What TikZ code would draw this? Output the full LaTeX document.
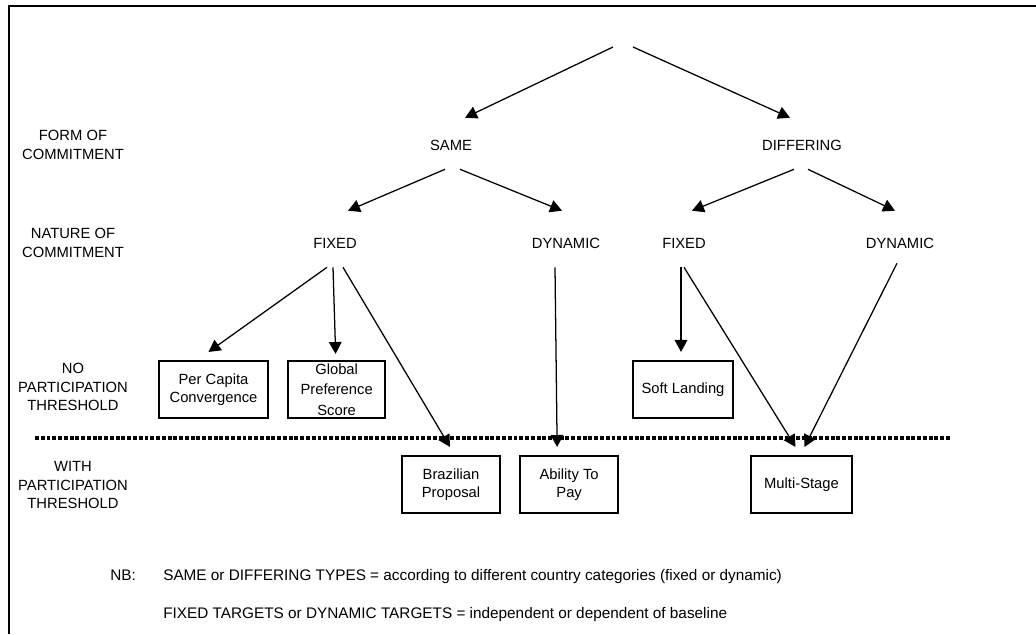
\documentclass[tikz,border=0pt]{standalone}
\usepackage{fontspec}
\setmainfont{Liberation Sans}
\usepackage{tikz}
\usetikzlibrary{arrows.meta}
\usetikzlibrary{calc,positioning}
\tikzset{scheme-line/.style={line width=0.9pt}}
\tikzset{>={Triangle[length=8.5pt, width=9pt]}}
\tikzset{frame-line/.style={line width=1.8pt}}
\tikzset{threshold-line/.style={line width=2.4pt, dash pattern=on 2.8pt off 1.3pt}}
\tikzset{tree-node/.style={inner sep=0, minimum height=1.2cm, font=\fontsize{10.5}{13}\selectfont}}
\tikzset{row-label/.style={tree-node, align=center}}
\tikzset{scheme-box/.style={draw, line width=1.5pt, inner sep=0, minimum height=1.425cm,
    align=center, font=\fontsize{10.5}{13}\selectfont}}
\tikzset{note-text/.style={inner sep=0, anchor=base west, font=\fontsize{10.9}{13}\selectfont}}

\begin{document}
\begin{tikzpicture}[x=0.025cm, y=-0.025cm]
    \useasboundingbox (0,0) rectangle (1036,634);
    \draw[frame-line] (9,634) |- (1036,6);

    \node[row-label] (labelForm) at (73,145) {FORM OF\\COMMITMENT};
    \node[row-label] (labelNature) at (73,243) {NATURE OF\\COMMITMENT};
    \node[row-label] (labelNo) at (73,387) {NO\\PARTICIPATION\\THRESHOLD};
    \node[row-label] (labelWith) at (73,485) {WITH\\PARTICIPATION\\THRESHOLD};

    \coordinate (apexL) at (613,47);
    \coordinate (apexR) at (633,47);
    \node[tree-node] (same) at (451,145) {SAME};
    \node[tree-node] (differing) at (802,145) {DIFFERING};
    \node[tree-node] (fixedSame) at (335,243) {FIXED};
    \node[tree-node] (dynamicSame) at (566,243) {DYNAMIC};
    \node[tree-node] (fixedDiff) at (684,243) {FIXED};
    \node[tree-node] (dynamicDiff) at (900,243) {DYNAMIC};

    \node[scheme-box, minimum width=2.725cm] (perCapita) at (213.5,389.5) {Per Capita\\Convergence};
    \node[scheme-box, minimum width=2.425cm, right=0.45cm of perCapita,
          font=\fontsize{10.5}{14.5}\selectfont] (globalPref) {Global\\Preference\\Score};
    \node[scheme-box, minimum width=2.5cm] (softLanding) at (683,389.5) {Soft Landing};
    \node[scheme-box, minimum width=2.45cm] (brazilian) at (451,484.5) {Brazilian\\Proposal};
    \node[scheme-box, minimum width=2.45cm, right=0.45cm of brazilian] (abilityPay) {Ability To\\Pay};
    \node[scheme-box, minimum width=2.525cm] (multiStage) at (801.5,484.5) {Multi-Stage};

    \coordinate (dotL) at (35,438);
    \coordinate (dotR) at (950,438);
    \draw[threshold-line] (dotL) -- (dotR);

    \draw[->, scheme-line] (apexL) -- ($(same.north)+(14,-3)$);
    \draw[->, scheme-line] (apexR) -- ($(differing.north)+(-12,-3)$);
    \draw[->, scheme-line] ($(same.south)+(-6,0)$) -- ($(fixedSame.north)+(13,-8)$);
    \draw[->, scheme-line] ($(same.south)+(9,0)$) -- ($(dynamicSame.north)+(-4,-8)$);
    \draw[->, scheme-line] ($(differing.south)+(-8,0)$) -- ($(fixedDiff.north)+(8,-8)$);
    \draw[->, scheme-line] ($(differing.south)+(6,0)$) -- ($(dynamicDiff.north)+(-5,-8)$);

    \draw[->, scheme-line] ($(fixedSame.south)+(-8,0)$) -- ($(perCapita.north)+(-5,-8)$);
    \draw[->, scheme-line] ($(fixedSame.south)+(-2,0)$) -- ($(globalPref.north)+(-1,-6)$);
    \draw[->, scheme-line] ($(fixedSame.south)+(8,0)$) -- ($(brazilian.north)+(-1,-8)$);
    \draw[->, scheme-line] ($(dynamicSame.south)+(-11,0)$) -- ($(abilityPay.north)+(-12,-8)$);
    \draw[->, scheme-line] ($(fixedDiff.south)+(-3,0)$) -- ($(softLanding.north)+(-2,-8)$);
    \draw[->, scheme-line] ($(fixedDiff.south)+(0,0)$) -- ($(multiStage.north)+(-6,-8)$);
    \draw[->, scheme-line] ($(dynamicDiff.south)+(-3,-4)$) -- ($(multiStage.north)+(3,-8)$);

    \node[note-text] (nbLabel) at (110,580) {NB:};
    \node[note-text] (noteSame) at (163,580) {SAME or DIFFERING TYPES = according to different country categories (fixed or dynamic)};
    \node[note-text] (noteFixed) at (163,618) {FIXED TARGETS or DYNAMIC TARGETS = independent or dependent of baseline};
\end{tikzpicture}
\end{document}
